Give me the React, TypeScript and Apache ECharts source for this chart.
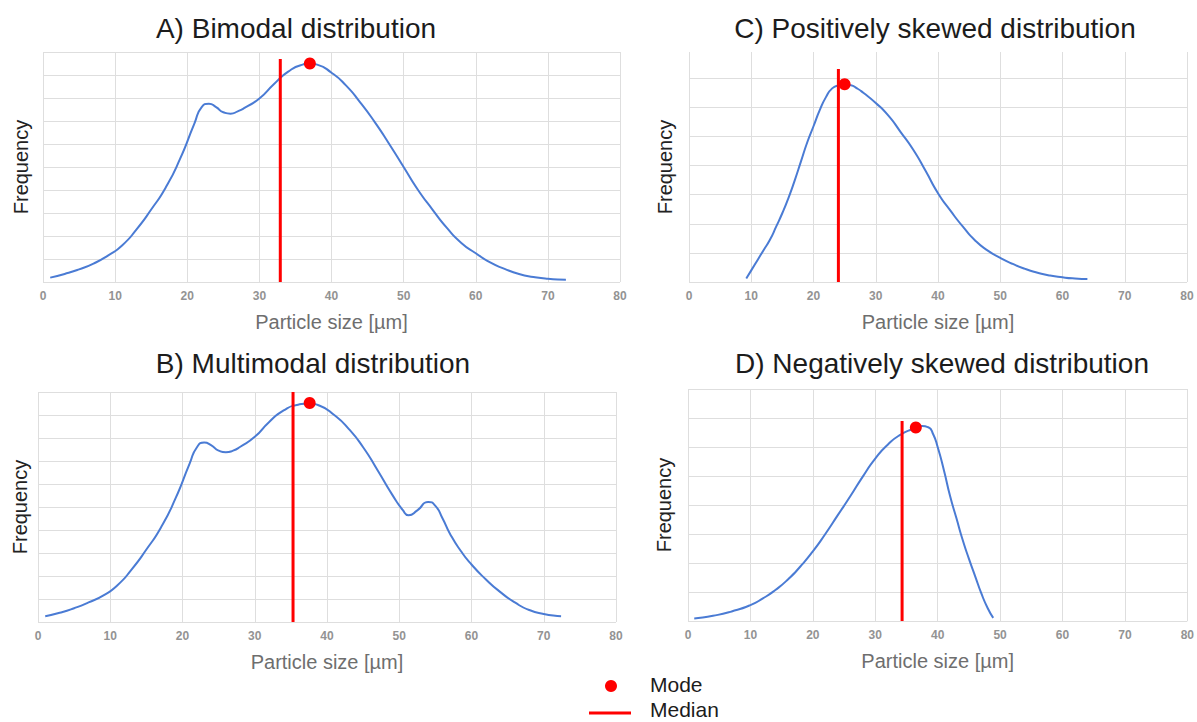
import React, { useEffect, useRef } from "react";
import * as echarts from "echarts";

// ---- Data ----
const xTicks = [0, 10, 20, 30, 40, 50, 60, 70, 80];

const titles = [
  "A) Bimodal distribution",
  "B) Multimodal distribution",
  "C) Positively skewed distribution",
  "D) Negatively skewed distribution",
];

// A) Bimodal
const bimodalX = [1, 3, 5, 7, 9, 11, 13, 15, 17, 19, 21, 22, 23, 24, 25, 26, 27, 28, 30, 32, 34, 36, 37, 38, 40, 42, 44, 46, 48, 50, 52, 54, 56, 58, 60, 62, 64, 66, 68, 70, 72.5];
const bimodalY = [0.19, 0.35, 0.55, 0.8, 1.15, 1.6, 2.3, 3.15, 4.1, 5.35, 6.9, 7.6, 7.75, 7.6, 7.38, 7.32, 7.42, 7.58, 7.98, 8.6, 9.15, 9.45, 9.5, 9.45, 9.1, 8.55, 7.8, 6.95, 6.0, 5.0, 4.0, 3.15, 2.35, 1.7, 1.25, 0.85, 0.57, 0.35, 0.22, 0.14, 0.1];
const bimodalMedian = [32.9, 9.7]; // x, top of line
const bimodalMode = [37, 9.5];

// B) Multimodal
const multiX = [1, 3, 5, 7, 9, 11, 13, 15, 17, 19, 21, 22, 23, 24, 25, 26, 27, 28, 30, 32, 34, 36, 37.5, 39, 41, 43, 45, 47, 49, 50.5, 51.3, 52.5, 54, 55, 56, 57, 58.5, 60, 62, 64, 66, 68, 70, 72.4];
const multiY = [0.25, 0.4, 0.6, 0.85, 1.15, 1.6, 2.3, 3.15, 4.1, 5.35, 6.9, 7.6, 7.8, 7.68, 7.45, 7.38, 7.45, 7.62, 8.05, 8.7, 9.2, 9.45, 9.5, 9.4, 9.0, 8.4, 7.6, 6.6, 5.55, 4.86, 4.64, 4.85, 5.22, 5.05, 4.5, 3.85, 3.1, 2.5, 1.85, 1.3, 0.85, 0.52, 0.35, 0.25];
const multiMedian = [35.3, 10];
const multiMode = [37.6, 9.52];

// C) Positively skewed
const posX = [9.2, 10, 11, 12, 13, 14, 15, 16, 17, 18, 19, 20, 21, 22, 23, 24, 25, 26, 27, 28, 30, 32, 34, 36, 38, 40, 42, 44, 46, 48, 50, 52, 54, 56, 58, 60, 62, 64];
const posY = [0.12, 0.4, 0.75, 1.1, 1.45, 1.9, 2.37, 2.9, 3.5, 4.15, 4.8, 5.35, 5.9, 6.35, 6.65, 6.75, 6.78, 6.76, 6.65, 6.5, 6.15, 5.72, 5.15, 4.55, 3.82, 3.05, 2.45, 1.9, 1.42, 1.08, 0.83, 0.62, 0.45, 0.32, 0.22, 0.16, 0.12, 0.1];
const posMedian = [24.0, 7.32];
const posMode = [25.0, 6.79];

// D) Negatively skewed
const negX = [1, 4, 7, 10, 12, 14, 16, 18, 20, 22, 24, 26, 28, 30, 32, 34, 36, 37.5, 38.5, 39.3, 40, 41, 42, 43, 44, 45, 46, 47, 48, 48.9];
const negY = [0.09, 0.18, 0.33, 0.55, 0.78, 1.07, 1.43, 1.88, 2.4, 3.0, 3.65, 4.3, 4.98, 5.6, 6.08, 6.42, 6.62, 6.72, 6.68, 6.43, 6.0, 5.2, 4.3, 3.55, 2.8, 2.15, 1.55, 0.95, 0.45, 0.11];
const negMedian = [34.3, 6.9];
const negMode = [36.5, 6.67];

const yMax = [10, 10, 7.9, 8];
const yShowMax = [true, true, false, true];

const xName = "Particle size [µm]";
const yName = "Frequency";
const legendNames = ["Mode", "Median"];

const panels = [
  { x: bimodalX, y: bimodalY, median: bimodalMedian, mode: bimodalMode },
  { x: multiX, y: multiY, median: multiMedian, mode: multiMode },
  { x: posX, y: posY, median: posMedian, mode: posMode },
  { x: negX, y: negY, median: negMedian, mode: negMode },
];

// ---- Layout / style ----
const grids = [
  { left: 43, top: 52, width: 577, height: 230 },
  { left: 38, top: 392, width: 578, height: 230 },
  { left: 689, top: 52, width: 498, height: 230 },
  { left: 688, top: 389, width: 500, height: 232 },
];
const yNameGaps = [12, 8, 14, 14];
const titlePos = [
  [296, 28],
  [313, 363],
  [935, 28],
  [942, 363],
];

const FONT = "'Liberation Sans', Arial, sans-serif";
const BLUE = "#4a7bd4";
const RED = "#ff0000";
const GRID_C = "#dedede";

export default function App() {
  const ref = useRef<HTMLDivElement>(null);

  useEffect(() => {
    if (!ref.current) return;
    const chart = echarts.init(ref.current, null, { renderer: "svg" });

    const xAxis = grids.map((_, i) => ({
      type: "value",
      gridIndex: i,
      min: xTicks[0],
      max: xTicks[xTicks.length - 1],
      interval: xTicks[1] - xTicks[0],
      name: xName,
      nameLocation: "middle",
      nameGap: 30,
      nameTextStyle: { fontFamily: FONT, fontSize: 20, color: "#6e6e6e" },
      axisLine: { show: false },
      axisTick: { show: false },
      axisLabel: {
        show: true,
        margin: 8,
        fontFamily: FONT,
        fontSize: 12,
        fontWeight: "bold",
        color: "#939393",
      },
      splitLine: { show: true, lineStyle: { color: GRID_C, width: 1 } },
    }));

    const yAxis = grids.map((_, i) => ({
      type: "value",
      gridIndex: i,
      min: 0,
      max: yMax[i],
      interval: 1,
      name: yName,
      nameLocation: "middle",
      nameGap: yNameGaps[i],
      nameRotate: 90,
      nameTextStyle: { fontFamily: FONT, fontSize: 20, color: "#222222" },
      axisLine: { show: false },
      axisTick: { show: false },
      axisLabel: { show: false },
      splitLine: {
        show: true,
        showMaxLine: yShowMax[i],
        lineStyle: { color: GRID_C, width: 1 },
      },
    }));

    const series: any[] = [];
    panels.forEach((p, i) => {
      series.push({
        type: "line",
        name: "Distribution",
        xAxisIndex: i,
        yAxisIndex: i,
        data: p.x.map((v, k) => [v, p.y[k]]),
        smooth: 0.6,
        showSymbol: false,
        lineStyle: { color: BLUE, width: 2 },
        z: 2,
      });
      series.push({
        type: "line",
        name: legendNames[1],
        xAxisIndex: i,
        yAxisIndex: i,
        data: [
          [p.median[0], 0],
          [p.median[0], p.median[1]],
        ],
        showSymbol: false,
        lineStyle: { color: RED, width: 3 },
        z: 3,
      });
      series.push({
        type: "scatter",
        name: legendNames[0],
        xAxisIndex: i,
        yAxisIndex: i,
        data: [p.mode],
        symbol: "circle",
        symbolSize: 12,
        itemStyle: { color: RED, opacity: 1 },
        z: 4,
      });
    });

    const graphic: any[] = titles.map((t, i) => ({
      type: "text",
      x: titlePos[i][0],
      y: titlePos[i][1],
      style: {
        text: t,
        fontFamily: FONT,
        fontSize: 28,
        fill: "#1c1c1c",
        textAlign: "center",
        textVerticalAlign: "middle",
      },
    }));
    graphic.push(
      { type: "circle", shape: { cx: 611, cy: 686, r: 6 }, style: { fill: RED } },
      {
        type: "line",
        shape: { x1: 589, y1: 713, x2: 631, y2: 713 },
        style: { stroke: RED, lineWidth: 3 },
      },
      {
        type: "text",
        x: 650,
        y: 684,
        style: {
          text: legendNames[0],
          fontFamily: FONT,
          fontSize: 21,
          fill: "#1c1c1c",
          textAlign: "left",
          textVerticalAlign: "middle",
        },
      },
      {
        type: "text",
        x: 650,
        y: 709,
        style: {
          text: legendNames[1],
          fontFamily: FONT,
          fontSize: 21,
          fill: "#1c1c1c",
          textAlign: "left",
          textVerticalAlign: "middle",
        },
      }
    );

    chart.setOption({
      animation: false,
      backgroundColor: "#ffffff",
      grid: grids.map((g) => ({ ...g, containLabel: false })),
      xAxis,
      yAxis,
      series,
      graphic,
    });

    return () => chart.dispose();
  }, []);

  return (
    <div
      ref={ref}
      style={{ position: "fixed", left: 0, top: 0, width: 1197, height: 722 }}
    />
  );
}
